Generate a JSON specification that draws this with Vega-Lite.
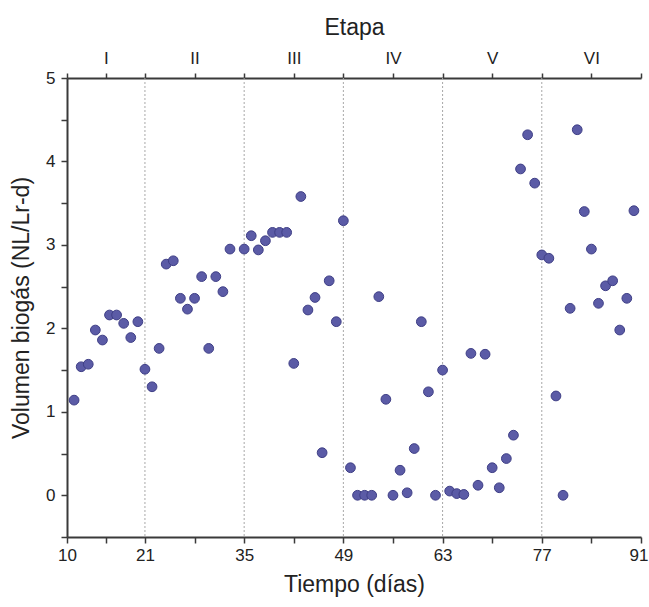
{
  "$schema": "https://vega.github.io/schema/vega-lite/v6.json",
  "width": 574,
  "height": 459,
  "autosize": {"type": "none"},
  "padding": {"left": 67, "top": 78, "right": 8, "bottom": 70},
  "config": {
    "view": {"stroke": null},
    "font": "Liberation Sans",
    "axis": {
      "grid": false,
      "domainColor": "#3a3a3a",
      "domainWidth": 2,
      "tickColor": "#3a3a3a",
      "tickWidth": 1.5,
      "labelColor": "#222222",
      "titleColor": "#222222",
      "labelFont": "Liberation Sans",
      "titleFont": "Liberation Sans",
      "labelFontSize": 17,
      "titleFontSize": 23,
      "titleFontWeight": "normal",
      "labelFlush": false,
      "labelOverlap": false
    }
  },
  "layer": [
    {
      "data": {"values": [{"dia": 21}, {"dia": 35}, {"dia": 49}, {"dia": 63}, {"dia": 77}]},
      "mark": {"type": "rule", "stroke": "#a8a8a8", "strokeDash": [2, 2], "strokeWidth": 1},
      "encoding": {
        "x": {
          "field": "dia",
          "type": "quantitative",
          "scale": {"domain": [10, 91], "nice": false, "zero": false},
          "axis": {
            "orient": "top",
            "title": "Etapa",
            "values": [10, 15.5, 21, 28, 35, 42, 49, 56, 63, 70, 77, 84, 91],
            "labelExpr": "datum.value == 15.5 ? 'I' : datum.value == 28 ? 'II' : datum.value == 42 ? 'III' : datum.value == 56 ? 'IV' : datum.value == 70 ? 'V' : datum.value == 84 ? 'VI' : ''",
            "tickSize": 5,
            "labelPadding": 6,
            "titlePadding": 10
          }
        }
      }
    },
    {
      "data": {
        "values": [
          {"dia": 11, "volumen": 1.14}, {"dia": 12, "volumen": 1.54}, {"dia": 13, "volumen": 1.57},
          {"dia": 14, "volumen": 1.98}, {"dia": 15, "volumen": 1.86}, {"dia": 16, "volumen": 2.16},
          {"dia": 17, "volumen": 2.16}, {"dia": 18, "volumen": 2.06}, {"dia": 19, "volumen": 1.89},
          {"dia": 20, "volumen": 2.08}, {"dia": 21, "volumen": 1.51}, {"dia": 22, "volumen": 1.30},
          {"dia": 23, "volumen": 1.76}, {"dia": 24, "volumen": 2.77}, {"dia": 25, "volumen": 2.81},
          {"dia": 26, "volumen": 2.36}, {"dia": 27, "volumen": 2.23}, {"dia": 28, "volumen": 2.36},
          {"dia": 29, "volumen": 2.62}, {"dia": 30, "volumen": 1.76}, {"dia": 31, "volumen": 2.62},
          {"dia": 32, "volumen": 2.44}, {"dia": 33, "volumen": 2.95}, {"dia": 35, "volumen": 2.95},
          {"dia": 36, "volumen": 3.11}, {"dia": 37, "volumen": 2.94}, {"dia": 38, "volumen": 3.05},
          {"dia": 39, "volumen": 3.15}, {"dia": 40, "volumen": 3.15}, {"dia": 41, "volumen": 3.15},
          {"dia": 42, "volumen": 1.58}, {"dia": 43, "volumen": 3.58}, {"dia": 44, "volumen": 2.22},
          {"dia": 45, "volumen": 2.37}, {"dia": 46, "volumen": 0.51}, {"dia": 47, "volumen": 2.57},
          {"dia": 48, "volumen": 2.08}, {"dia": 49, "volumen": 3.29}, {"dia": 50, "volumen": 0.33},
          {"dia": 51, "volumen": 0}, {"dia": 52, "volumen": 0}, {"dia": 53, "volumen": 0},
          {"dia": 54, "volumen": 2.38}, {"dia": 55, "volumen": 1.15}, {"dia": 56, "volumen": 0},
          {"dia": 57, "volumen": 0.30}, {"dia": 58, "volumen": 0.03}, {"dia": 59, "volumen": 0.56},
          {"dia": 60, "volumen": 2.08}, {"dia": 61, "volumen": 1.24}, {"dia": 62, "volumen": 0},
          {"dia": 63, "volumen": 1.50}, {"dia": 64, "volumen": 0.05}, {"dia": 65, "volumen": 0.02},
          {"dia": 66, "volumen": 0.01}, {"dia": 67, "volumen": 1.70}, {"dia": 68, "volumen": 0.12},
          {"dia": 69, "volumen": 1.69}, {"dia": 70, "volumen": 0.33}, {"dia": 71, "volumen": 0.09},
          {"dia": 72, "volumen": 0.44}, {"dia": 73, "volumen": 0.72}, {"dia": 74, "volumen": 3.91},
          {"dia": 75, "volumen": 4.32}, {"dia": 76, "volumen": 3.74}, {"dia": 77, "volumen": 2.88},
          {"dia": 78, "volumen": 2.84}, {"dia": 79, "volumen": 1.19}, {"dia": 80, "volumen": 0},
          {"dia": 81, "volumen": 2.24}, {"dia": 82, "volumen": 4.38}, {"dia": 83, "volumen": 3.40},
          {"dia": 84, "volumen": 2.95}, {"dia": 85, "volumen": 2.30}, {"dia": 86, "volumen": 2.51},
          {"dia": 87, "volumen": 2.57}, {"dia": 88, "volumen": 1.98}, {"dia": 89, "volumen": 2.36},
          {"dia": 90, "volumen": 3.41}
        ]
      },
      "mark": {"type": "circle", "size": 95, "fill": "#5b5ba6", "stroke": "#3f3f86", "strokeWidth": 1, "opacity": 1},
      "encoding": {
        "x": {
          "field": "dia",
          "type": "quantitative",
          "scale": {"domain": [10, 91], "nice": false, "zero": false},
          "axis": {
            "orient": "bottom",
            "title": "Tiempo (días)",
            "values": [10, 15.5, 21, 28, 35, 42, 49, 56, 63, 70, 77, 84, 91],
            "labelExpr": "(datum.value == 10 || (datum.value - 7) % 14 == 0) ? datum.label : ''",
            "labelAlign": {"condition": {"test": "datum.value == 91", "value": "right"}, "value": "center"},
            "labelOffset": {"condition": {"test": "datum.value == 91", "value": 7}, "value": 0},
            "tickSize": 6,
            "labelPadding": 4,
            "titlePadding": 10
          }
        },
        "y": {
          "field": "volumen",
          "type": "quantitative",
          "scale": {"domain": [-0.5, 5], "nice": false, "zero": false},
          "axis": {
            "title": "Volumen biogás (NL/Lr-d)",
            "values": [-0.5, 0, 0.5, 1, 1.5, 2, 2.5, 3, 3.5, 4, 4.5, 5],
            "labelExpr": "datum.value % 1 == 0 ? format(datum.value, 'd') : ''",
            "tickSize": 6,
            "labelPadding": 6,
            "titlePadding": 12
          }
        }
      }
    }
  ],
  "resolve": {"axis": {"x": "independent"}}
}
